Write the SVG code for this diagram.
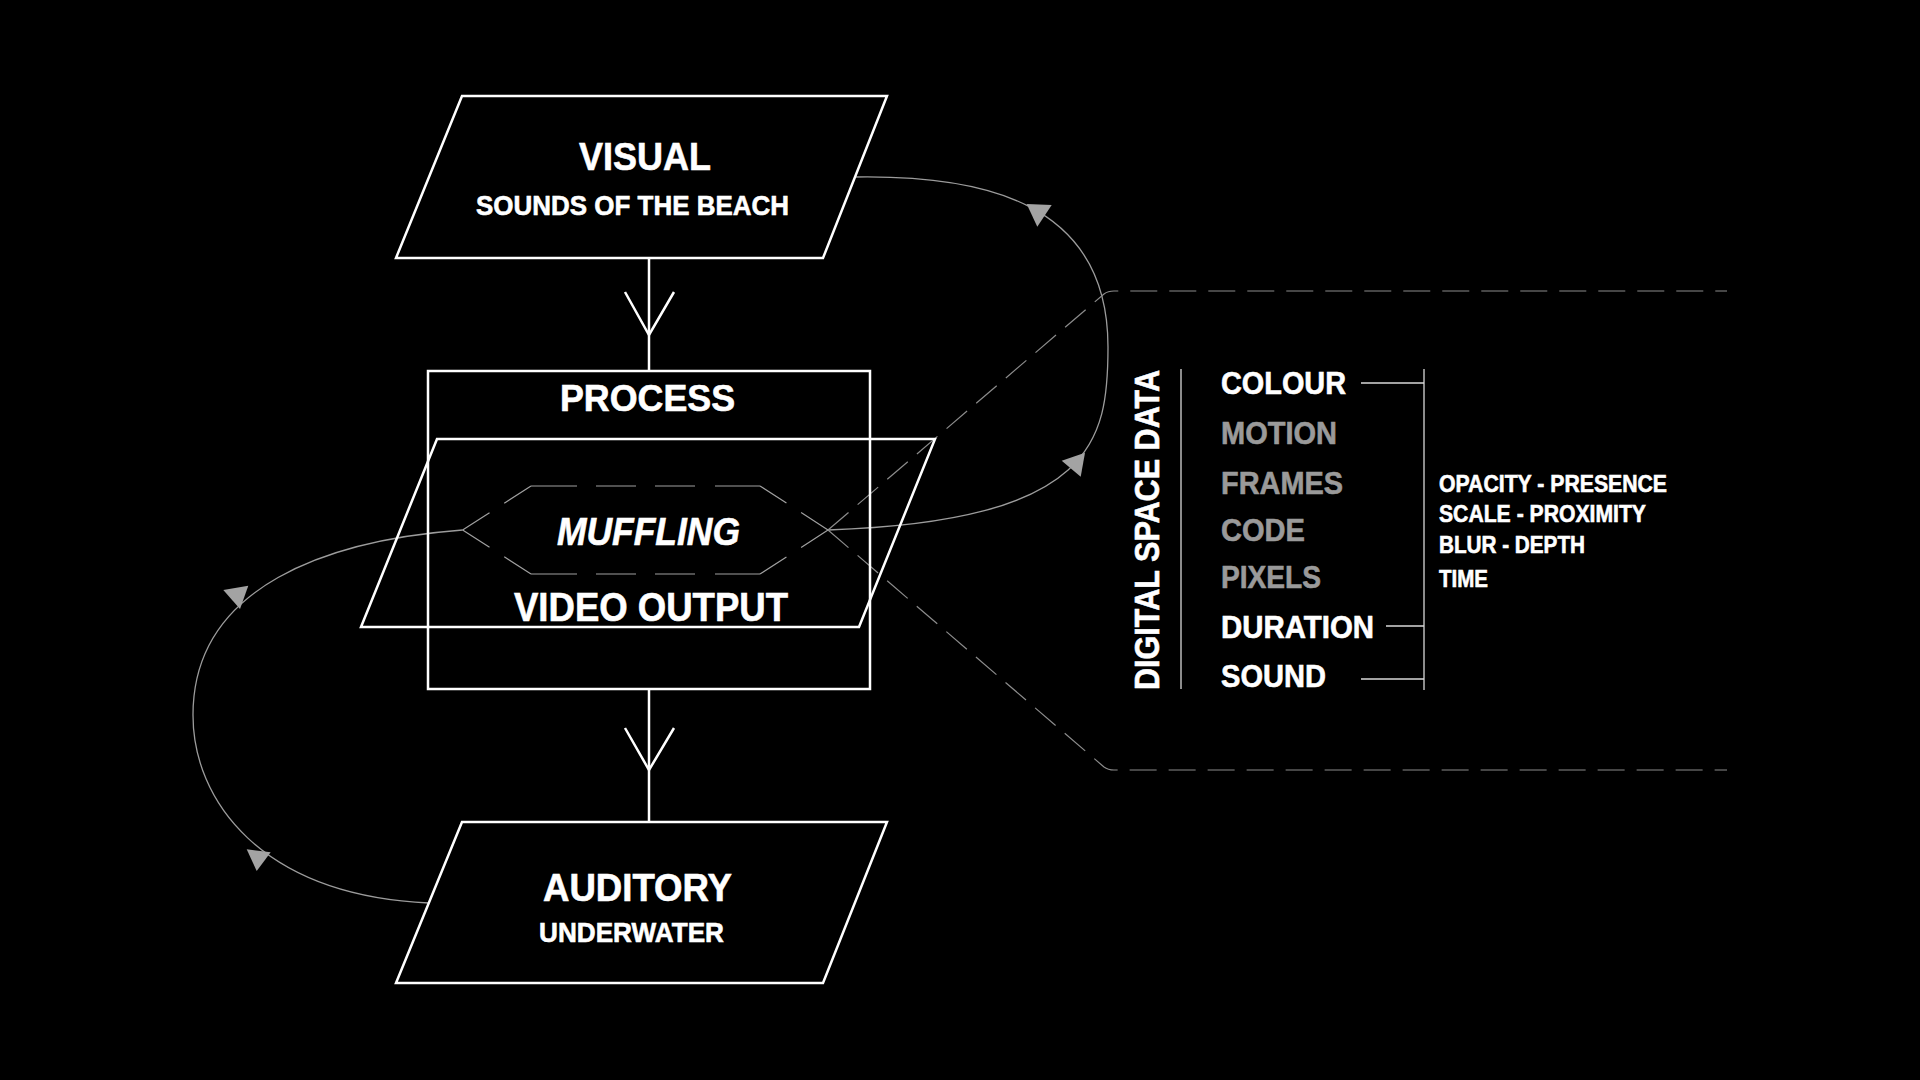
<svg xmlns="http://www.w3.org/2000/svg" width="1920" height="1080" viewBox="0 0 1920 1080">
<style>
.bg{fill:#000}
.w{fill:none;stroke:#fff;stroke-width:2.5;stroke-linejoin:miter}
.thin{fill:none;stroke:#d8d8d8;stroke-width:1.3}
.curve{fill:none;stroke:#9c9c9c;stroke-width:1.3}
.dash{fill:none;stroke:#8c8c8c;stroke-width:1.2;stroke-dasharray:27 12}
.hex{fill:none;stroke:#a0a0a0;stroke-width:1.2}
.ah{fill:#a3a3a3;stroke:none}
text{font-family:"Liberation Sans",Arial,Helvetica,sans-serif;font-weight:bold;fill:#fff;stroke:#fff;stroke-width:0.6}
text.g{fill:#9a9a9a;stroke:#9a9a9a}
</style>
<rect class="bg" x="0" y="0" width="1920" height="1080"/>

<g id="connectors">
  <!-- flow arrows between main nodes -->
  <line class="w" x1="649" y1="258" x2="649" y2="371"/>
  <polyline class="w" points="625,292 649,335 674,292"/>
  <line class="w" x1="649" y1="689" x2="649" y2="822"/>
  <polyline class="w" points="625,728 649,770 674,728"/>
  <!-- right loop: muffling -> visual -->
  <path class="curve" d="M855,177 C980,175 1108,200 1108,347 C1108,440 1095,521 828,530"/>
  <polygon class="ah" points="1026.7,204 1051.7,205 1037.3,226.7"/>
  <polygon class="ah" points="1085,452.7 1061.7,460.7 1080.7,476.7"/>
  <!-- left loop: auditory -> muffling -->
  <path class="curve" d="M462.6,530 C330,540 193,585 193,715 C193,800 260,895 428.8,903"/>
  <polygon class="ah" points="248.3,585.7 223.3,590 240,609"/>
  <polygon class="ah" points="246.7,849.3 270.7,852.3 256.7,871"/>
  <!-- dashed projection to data panel -->
  <path class="dash" d="M828,530 L1104,294 Q1108,291 1114,291 L1727,291"/>
  <path class="dash" d="M828,530 L1104,767 Q1108,770 1114,770 L1727,770"/>
</g>

<g id="node-visual">
  <polygon class="w" points="462,96 887,96 823,258 396,258"/>
  <text x="579" y="170" font-size="39.5" textLength="132" lengthAdjust="spacingAndGlyphs">VISUAL</text>
  <text x="476" y="215" font-size="28" textLength="313" lengthAdjust="spacingAndGlyphs">SOUNDS OF THE BEACH</text>
</g>

<g id="node-process">
  <rect class="w" x="428" y="371" width="442" height="318"/>
  <text x="560" y="411" font-size="36" textLength="175" lengthAdjust="spacingAndGlyphs">PROCESS</text>
</g>

<g id="node-video-output">
  <polygon class="w" points="437,439 935,439 859,627 361,627"/>
  <text x="514" y="621" font-size="40" textLength="274" lengthAdjust="spacingAndGlyphs">VIDEO OUTPUT</text>
</g>

<g id="node-muffling">
  <line class="hex" x1="531" y1="486" x2="760" y2="486" stroke-dasharray="46 19 40 19 40 20 46"/>
  <line class="hex" x1="531" y1="574" x2="760" y2="574" stroke-dasharray="46 19 40 19 40 20 46"/>
  <line class="hex" x1="462.6" y1="530" x2="531" y2="486" stroke-dasharray="32 17.5 32"/>
  <line class="hex" x1="462.6" y1="530" x2="531" y2="574" stroke-dasharray="32 17.5 32"/>
  <line class="hex" x1="828" y1="530" x2="760" y2="486" stroke-dasharray="32 17.5 32"/>
  <line class="hex" x1="828" y1="530" x2="760" y2="574" stroke-dasharray="32 17.5 32"/>
  <text x="557" y="545" font-size="39" font-style="italic" textLength="183" lengthAdjust="spacingAndGlyphs">MUFFLING</text>
</g>

<g id="node-auditory">
  <polygon class="w" points="462,822 887,822 823,983 396,983"/>
  <text x="543" y="901" font-size="38" textLength="189" lengthAdjust="spacingAndGlyphs">AUDITORY</text>
  <text x="539" y="942" font-size="28" textLength="185" lengthAdjust="spacingAndGlyphs">UNDERWATER</text>
</g>

<g id="node-digital-space-data">
  <text transform="translate(1159,690) rotate(-90)" x="0" y="0" font-size="35" textLength="320" lengthAdjust="spacingAndGlyphs">DIGITAL SPACE DATA</text>
  <line class="thin" x1="1181" y1="369" x2="1181" y2="689"/>
  <text x="1221" y="394" font-size="31" textLength="125" lengthAdjust="spacingAndGlyphs">COLOUR</text>
  <text class="g" x="1221" y="444" font-size="31" textLength="116" lengthAdjust="spacingAndGlyphs">MOTION</text>
  <text class="g" x="1221" y="494" font-size="31" textLength="122" lengthAdjust="spacingAndGlyphs">FRAMES</text>
  <text class="g" x="1221" y="541" font-size="31" textLength="84" lengthAdjust="spacingAndGlyphs">CODE</text>
  <text class="g" x="1221" y="588" font-size="31" textLength="100" lengthAdjust="spacingAndGlyphs">PIXELS</text>
  <text x="1221" y="638" font-size="31" textLength="153" lengthAdjust="spacingAndGlyphs">DURATION</text>
  <text x="1221" y="687" font-size="31" textLength="105" lengthAdjust="spacingAndGlyphs">SOUND</text>
  <line class="thin" x1="1361" y1="383" x2="1424" y2="383"/>
  <line class="thin" x1="1386" y1="626" x2="1424" y2="626"/>
  <line class="thin" x1="1361" y1="679" x2="1424" y2="679"/>
  <line class="thin" x1="1424" y1="369" x2="1424" y2="690"/>
</g>

<g id="node-properties">
  <text x="1439" y="492" font-size="24" textLength="228" lengthAdjust="spacingAndGlyphs">OPACITY - PRESENCE</text>
  <text x="1439" y="522" font-size="24" textLength="207" lengthAdjust="spacingAndGlyphs">SCALE - PROXIMITY</text>
  <text x="1439" y="553" font-size="24" textLength="146" lengthAdjust="spacingAndGlyphs">BLUR - DEPTH</text>
  <text x="1439" y="587" font-size="24" textLength="49" lengthAdjust="spacingAndGlyphs">TIME</text>
</g>
</svg>
